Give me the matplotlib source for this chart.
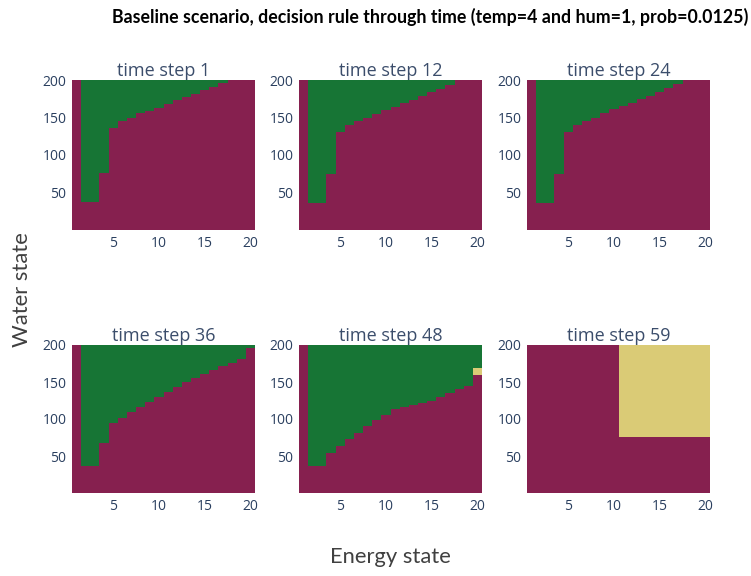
import numpy as np
import matplotlib
matplotlib.use("Agg")
import matplotlib.pyplot as plt
from matplotlib.colors import ListedColormap, BoundaryNorm

# ---- data ----
energy_states = list(range(1, 21))
time_steps = [1, 12, 24, 36, 48, 59]
# lower water threshold above which decision is "green" (None = never green), per energy state
green_from_t1 = [None, 37, 37, 76, 136, 145, 150, 156, 159, 163, 168, 173, 177, 182, 187, 191, 196, None, None, None]
green_from_t12 = [None, 36, 36, 75, 131, 140, 146, 149, 155, 160, 164, 170, 174, 179, 184, 188, 194, None, None, None]
green_from_t24 = [None, 36, 36, 75, 131, 140, 146, 150, 156, 161, 165, 170, 175, 179, 184, 189, 195, None, None, None]
green_from_t36 = [None, 37, 37, 67, 94, 102, 109, 116, 123, 130, 137, 143, 150, 156, 161, 166, 171, 176, 181, 196]
green_from_t48 = [None, 36, 36, 54, 64, 73, 81, 90, 99, 106, 113, 116, 119, 122, 125, 130, 135, 141, 145, 169]
green_from_t59 = [None] * 20
# yellow band (energy state -> (low, high))
yellow_t48 = {20: (159, 169)}
yellow_t59 = {e: (76, 200) for e in range(11, 21)}

water_edges = np.arange(0, 201, 1)

def build(green_from, yellow):
    yc = (water_edges[:-1] + water_edges[1:]) / 2
    Z = np.zeros((len(yc), len(energy_states)))
    for j, e in enumerate(energy_states):
        g = green_from[j]
        if g is not None:
            Z[yc >= g, j] = 1
        if e in yellow:
            lo, hi = yellow[e]
            Z[(yc >= lo) & (yc < hi), j] = 2
    return Z

panels = [
    build(green_from_t1, {}),
    build(green_from_t12, {}),
    build(green_from_t24, {}),
    build(green_from_t36, {}),
    build(green_from_t48, yellow_t48),
    build(green_from_t59, yellow_t59),
]

cmap = ListedColormap(["#86204f", "#177535", "#dacb76"])
norm = BoundaryNorm([-0.5, 0.5, 1.5, 2.5], 3)

W, H = 751, 576
fig = plt.figure(figsize=(W / 100, H / 100), dpi=100)
fig.patch.set_facecolor("white")

lefts = [72, 299, 527]
rows = [(80, 230), (345, 493)]
x_edges = np.arange(0.5, 21, 1)
tick_color = "#2a3f5f"
title_color = "#3b4d6b"

for k, (Z, ts) in enumerate(zip(panels, time_steps)):
    r, c = divmod(k, 3)
    top, bot = rows[r]
    ax = fig.add_axes([lefts[c] / W, 1 - bot / H, 183 / W, (bot - top) / H])
    ax.pcolormesh(x_edges, water_edges, Z, cmap=cmap, norm=norm, shading="flat")
    ax.set_xlim(0.5, 20.5)
    ax.set_ylim(0, 200)
    ax.set_xticks([5, 10, 15, 20])
    ax.set_yticks([50, 100, 150, 200])
    ax.tick_params(length=0, pad=4, labelsize=10, labelcolor=tick_color)
    for lab in ax.get_xticklabels() + ax.get_yticklabels():
        lab.set_fontfamily("Open Sans")
    for s in ax.spines.values():
        s.set_visible(False)
    ax.set_title(f"time step {ts}", fontsize=13, color=title_color, pad=3,
                 fontfamily="Open Sans")

fig.text(430 / W, 1 - 17 / H,
         "Baseline scenario, decision rule through time (temp=4 and hum=1, prob=0.0125)",
         ha="center", va="center", fontsize=12.8, fontweight="bold", fontfamily="Lato", color="black")
fig.text(22 / W, 1 - 290 / H, "Water state", rotation=90, ha="center", va="center",
         fontsize=15.8, fontfamily="Lato", color="#404040")
fig.text(390 / W, 1 - 557 / H, "Energy state", ha="center", va="center",
         fontsize=15.8, fontfamily="Lato", color="#404040")

fig.savefig("out.png", dpi=100)
